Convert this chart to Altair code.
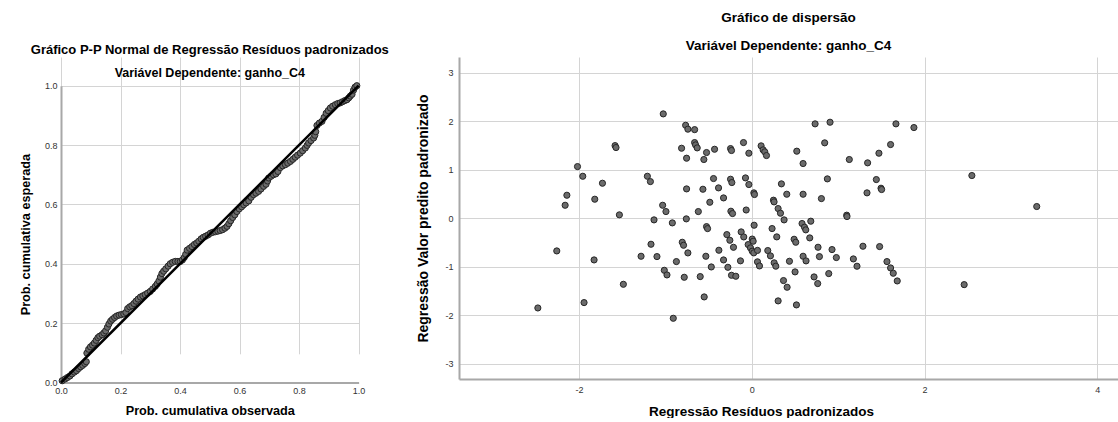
import altair as alt
import pandas as pd

# ---------------- P-P plot (observed vs expected cumulative probability) ----------------
pp_obs = [0.004, 0.014, 0.022, 0.030, 0.037, 0.045, 0.052, 0.059, 0.066, 0.073, 0.080, 0.085,
          0.087, 0.093, 0.099, 0.106, 0.112, 0.118, 0.124, 0.130, 0.138, 0.144, 0.150, 0.156,
          0.161, 0.167, 0.173, 0.180, 0.187, 0.195, 0.203, 0.211, 0.218, 0.224, 0.231, 0.238,
          0.245, 0.252, 0.259, 0.267, 0.275, 0.283, 0.291, 0.300, 0.308, 0.317, 0.323, 0.329,
          0.334, 0.339, 0.345, 0.352, 0.360, 0.367, 0.375, 0.384, 0.393, 0.401, 0.408, 0.414,
          0.419, 0.424, 0.432, 0.440, 0.448, 0.456, 0.463, 0.471, 0.478, 0.486, 0.494, 0.502,
          0.510, 0.519, 0.527, 0.535, 0.543, 0.551, 0.558, 0.564, 0.570, 0.577, 0.584, 0.591,
          0.599, 0.607, 0.614, 0.622, 0.631, 0.639, 0.647, 0.655, 0.664, 0.672, 0.681, 0.689,
          0.694, 0.698, 0.706, 0.714, 0.722, 0.729, 0.737, 0.745, 0.754, 0.762, 0.771, 0.779,
          0.787, 0.795, 0.804, 0.812, 0.821, 0.827, 0.832, 0.840, 0.849, 0.853, 0.856, 0.860,
          0.868, 0.877, 0.884, 0.891, 0.898, 0.905, 0.913, 0.922, 0.930, 0.938, 0.946, 0.954,
          0.961, 0.967, 0.972, 0.978, 0.983, 0.988, 0.994]
pp_exp = [0.006, 0.012, 0.017, 0.022, 0.029, 0.035, 0.040, 0.047, 0.053, 0.058, 0.064, 0.070,
          0.099, 0.112, 0.120, 0.126, 0.133, 0.142, 0.151, 0.156, 0.161, 0.167, 0.174, 0.186,
          0.197, 0.207, 0.213, 0.219, 0.224, 0.227, 0.229, 0.231, 0.236, 0.249, 0.255, 0.259,
          0.266, 0.274, 0.281, 0.288, 0.292, 0.296, 0.301, 0.307, 0.315, 0.324, 0.332, 0.342,
          0.355, 0.367, 0.375, 0.383, 0.392, 0.400, 0.405, 0.408, 0.408, 0.408, 0.413, 0.421,
          0.432, 0.446, 0.452, 0.458, 0.465, 0.470, 0.476, 0.484, 0.489, 0.493, 0.497, 0.503,
          0.506, 0.508, 0.510, 0.512, 0.515, 0.520, 0.526, 0.535, 0.545, 0.556, 0.565, 0.576,
          0.585, 0.592, 0.599, 0.605, 0.612, 0.624, 0.633, 0.638, 0.644, 0.652, 0.661, 0.668,
          0.679, 0.689, 0.695, 0.700, 0.703, 0.711, 0.724, 0.730, 0.734, 0.739, 0.745, 0.752,
          0.759, 0.766, 0.773, 0.781, 0.790, 0.799, 0.807, 0.815, 0.824, 0.833, 0.845, 0.866,
          0.874, 0.880, 0.893, 0.907, 0.916, 0.925, 0.931, 0.936, 0.940, 0.942, 0.946, 0.950,
          0.953, 0.959, 0.965, 0.971, 0.985, 0.995, 1.000]
diag_vals = [0.0, 1.0]
pp_ticks = [0.0, 0.2, 0.4, 0.6, 0.8, 1.0]

# ---------------- Scatter: standardized residual vs standardized predicted ----------------
res_x = [-1.025, -0.766, -0.740, -0.662, -1.583, -1.572, -0.813, -0.662, -0.651, -0.632,
         -0.524, -0.555, -0.755, -0.431, -0.246, -0.235, -0.096, -0.034, -2.018, -1.957,
         -1.729, -2.141, -2.161, -1.818, -1.533, -1.209, -1.174, -0.755, -0.566, -0.443,
         -0.385, -0.327, -0.486, -0.246, -0.231, -0.073, -0.034, -0.065, -1.032, -0.994,
         -1.132, -0.920, -0.758, -0.619, -0.524, -0.512, -0.242, -0.223, -0.289, -0.254,
         -0.212, -0.381, -0.123, -0.093, -0.042, -2.258, -1.167, -1.282, -1.098, -0.805,
         -0.790, -0.740, -0.532, -0.873, -1.013, -0.982, -0.782, -0.597, -0.469, -0.327,
         -0.277, -0.235, -0.185, -0.131, -1.826, -1.487, -2.477, -1.942, -0.551, -0.909,
         0.005, 0.016, -0.015, 0.005, 0.023, 0.066, 0.066, 0.089,
         0.733, 0.906, 1.669, 1.877, 0.108, 0.131, 0.150, 0.170, 0.521, 0.844,
         0.594, 1.129, 1.341, 1.472, 1.607, 0.875, 1.442, 2.548, 0.343, 0.024,
         0.031, 0.405, 0.594, 0.806, 1.334, 1.496, 1.503, 0.251, 0.258, 0.305,
         0.332, 0.374, 1.099, 1.102, 3.299, 0.027, 0.582, 0.683, 0.610, 0.625,
         0.235, 0.289, 0.671, 0.490, 0.509,
         0.185, 0.216, 0.259, 0.278, 0.436, 0.367, 0.409, 0.305, 0.517, 0.501,
         0.594, 0.628, 0.767, 0.783, 0.721, 0.763, 0.891, 0.929, 0.979, 1.176,
         1.218, 1.287, 1.480, 1.565, 1.607, 1.638, 1.684, 2.459]
res_y = [2.155, 1.920, 1.840, 1.830, 1.500, 1.460, 1.446, 1.563, 1.515, 1.453,
         1.357, 1.213, 1.240, 1.425, 1.439, 1.399, 1.563, 1.343, 1.067, 0.867,
         0.723, 0.475, 0.268, 0.393, 0.070, 0.867, 0.757, 0.606, 0.599, 0.820,
         0.627, 0.420, 0.330, 0.806, 0.737, 0.833, 0.696, 0.170, 0.268, 0.138,
         -0.034, -0.096, -0.013, 0.138, -0.173, -0.214, 0.145, 0.097, -0.338, -0.455,
         -0.600, -0.661, -0.282, -0.386, -0.544, -0.675, -0.537, -0.785, -0.792, -0.496,
         -0.558, -0.716, -0.785, -0.895, -1.075, -1.171, -1.219, -1.205, -1.006, -0.861,
         -1.013, -1.178, -1.198, -0.880, -0.861, -1.364, -1.853, -1.742, -1.625, -2.066,
         -0.430, -0.475, -0.612, -0.680, -0.715, -0.664, -0.900, -0.985,
         1.949, 1.983, 1.949, 1.873, 1.495, 1.412, 1.371, 1.295, 1.385, 1.557,
         1.130, 1.213, 1.144, 1.343, 1.522, 0.813, 0.799, 0.882, 0.710, 0.524,
         0.490, 0.496, 0.496, 0.406, 0.524, 0.620, 0.593, 0.373, 0.338, 0.200,
         0.104, -0.034, 0.063, 0.035, 0.242, -0.144, -0.109, -0.061, -0.185, -0.240,
         -0.213, -0.385, -0.406, -0.434, -0.496,
         -0.667, -0.777, -0.921, -0.990, -0.888, -1.287, -1.425, -1.707, -1.790, -1.108,
         -0.785, -0.881, -0.599, -0.792, -1.212, -1.349, -1.143, -0.647, -0.812, -0.840,
         -0.991, -0.578, -0.585, -0.895, -1.026, -1.136, -1.295, -1.371]
sc_xticks = [-2, 0, 2, 4]
sc_yticks = [-3, -2, -1, 0, 1, 2, 3]

FONT = "Liberation Sans"
PT_FILL = "#6b6b6b"
PT_STROKE = "#262626"
GRID = "#d4d4d4"
DOMAIN = "#a8a8a8"

pp_df = pd.DataFrame({"obs": pp_obs, "exp": pp_exp})
diag_df = pd.DataFrame({"obs": diag_vals, "exp": diag_vals})
sc_df = pd.DataFrame({"res": res_x, "pred": res_y})

axis_common = dict(
    grid=True, gridColor=GRID, gridWidth=1,
    domainColor=DOMAIN, domainWidth=2, ticks=False,
    labelFont=FONT, labelFontSize=9, labelColor="#333333", labelFlush=False,
    titleFont=FONT, titleFontWeight="bold", titleColor="#000000",
)

LH = 325.5
x_pp = alt.X("obs:Q", scale=alt.Scale(domain=[0, 1], nice=False, zero=False),
             axis=alt.Axis(values=pp_ticks, format=".1f", title="Prob. cumulativa observada",
                           labelPadding=4, titlePadding=9, titleFontSize=12.7, **axis_common))
y_pp = alt.Y("exp:Q", scale=alt.Scale(domain=[0, 1], nice=False, zero=False, range=[LH, 28.7]),
             axis=alt.Axis(values=pp_ticks, format=".1f", title="Prob. cumulativa esperada",
                           labelPadding=4, titlePadding=12, titleFontSize=12.7, **axis_common))

pp_points = alt.Chart(pp_df).mark_circle(
    size=38, fill=PT_FILL, stroke=PT_STROKE, strokeWidth=1, fillOpacity=1, strokeOpacity=1, opacity=1
).encode(x=x_pp, y=y_pp)
pp_line = alt.Chart(diag_df).mark_line(color="#000000", strokeWidth=2.5).encode(x=x_pp, y=y_pp)

left = alt.layer(pp_points, pp_line).properties(
    width=297.6, height=LH,
    title=alt.TitleParams(
        text="Gráfico P-P Normal de Regressão Resíduos padronizados",
        subtitle="Variável Dependente: ganho_C4",
        font=FONT, fontSize=13, fontWeight="bold", color="#000000",
        subtitleFont=FONT, subtitleFontSize=12.5, subtitleFontWeight="bold", subtitleColor="#000000",
        subtitlePadding=10, offset=-22, anchor="middle",
    ),
)

x_sc = alt.X("res:Q", scale=alt.Scale(domain=[-3.39, 4.24], nice=False, zero=False),
             axis=alt.Axis(values=sc_xticks, labelExpr="'' + datum.value",
                           title="Regressão Resíduos padronizados", titleX=302,
                           labelPadding=6, titlePadding=10, titleFontSize=13.5, **axis_common))
y_sc = alt.Y("pred:Q", scale=alt.Scale(domain=[-3.32, 3.33], nice=False, zero=False),
             axis=alt.Axis(values=sc_yticks, labelExpr="'' + datum.value",
                           title="Regressão Valor predito padronizado",
                           labelPadding=6, titlePadding=14, titleFontSize=14, **axis_common))

right = alt.Chart(sc_df).mark_circle(
    size=38, fill=PT_FILL, stroke=PT_STROKE, strokeWidth=1, fillOpacity=1, strokeOpacity=1, opacity=1
).encode(x=x_sc, y=y_sc).properties(
    width=659, height=322,
    title=alt.TitleParams(
        text="Gráfico de dispersão",
        subtitle="Variável Dependente: ganho_C4",
        font=FONT, fontSize=13.5, fontWeight="bold", color="#000000",
        subtitleFont=FONT, subtitleFontSize=13.5, subtitleFontWeight="bold", subtitleColor="#000000",
        subtitlePadding=14, offset=5, anchor="middle",
    ),
)

chart = alt.hconcat(left, right, spacing=100, bounds="flush").properties(
    padding={"left": 19, "top": 11, "right": 0, "bottom": 0},
    background="white",
).configure_view(stroke=None)

chart.save("out.html", embed_options={"renderer": "svg", "actions": False})
